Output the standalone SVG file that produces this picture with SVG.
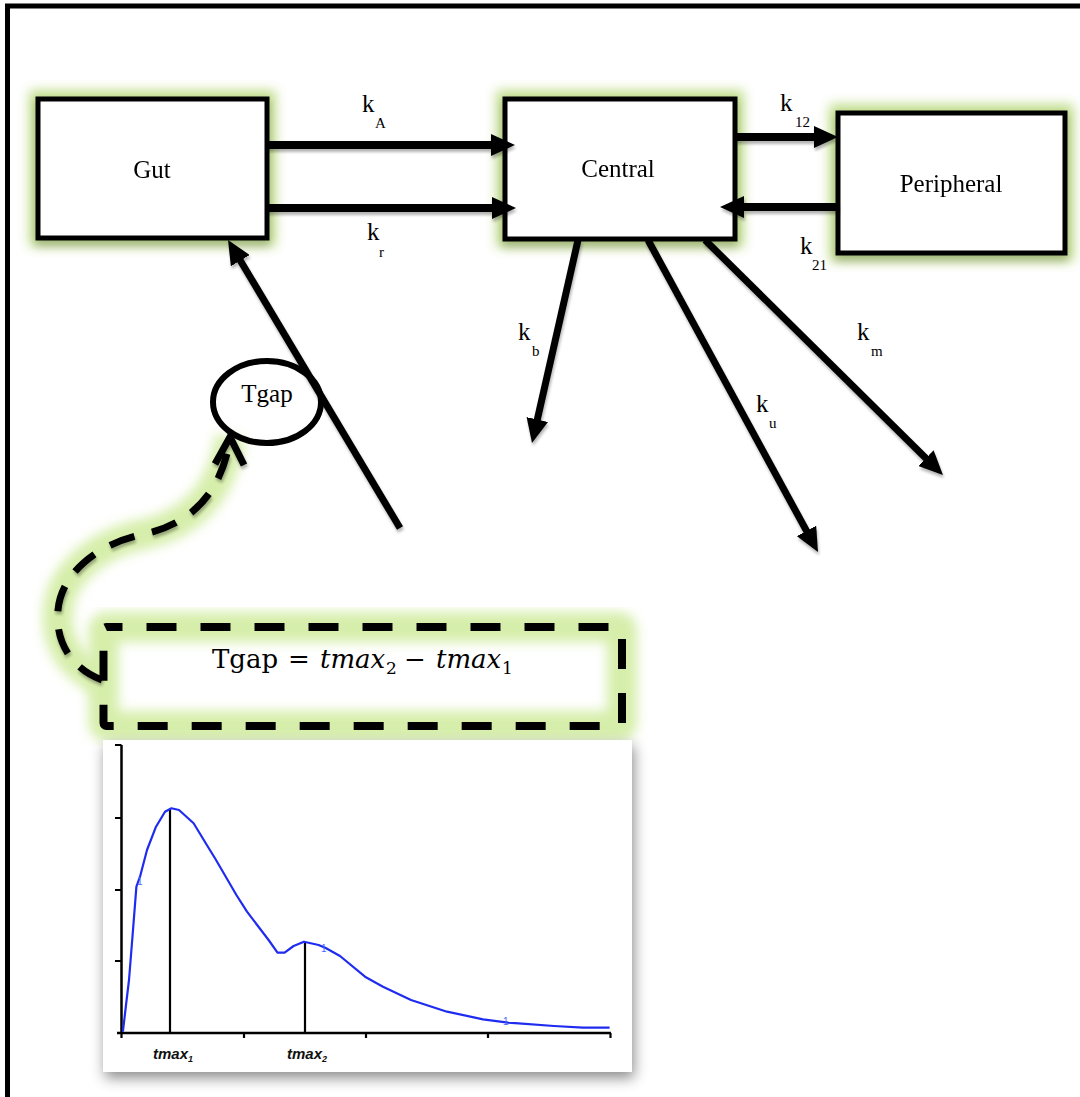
<svg xmlns="http://www.w3.org/2000/svg" width="1080" height="1097" viewBox="0 0 1080 1097">
  <style>
    .lbl { font-family: "Liberation Serif", "Times New Roman", serif; fill: #000; }
    .name { font-size: 25px; text-anchor: middle; }
    .k { font-size: 25px; }
    .sub { font-size: 15px; }
    .box { fill: #fff; stroke: #000; stroke-width: 5; stroke-linejoin: miter; }
    .flow { fill: none; stroke: #000; stroke-width: 8; marker-end: url(#head); }
    .diag { fill: none; stroke: #000; stroke-width: 7; marker-end: url(#head); }
    .dash { fill: none; stroke: #000; stroke-width: 7; }
    .halo { fill: none; stroke: #d6eeaa; filter: url(#soft); }
    .axis { stroke: #000; stroke-width: 2.5; fill: none; }
    .tick { stroke: #000; stroke-width: 2.2; }
    .ax-lbl { font-family: "Liberation Sans", Arial, sans-serif; font-weight: bold; font-style: italic; font-size: 15px; fill: #111; }
    .ax-sub { font-size: 9px; }
    .pt { font-family: "Liberation Sans", Arial, sans-serif; font-size: 10px; fill: #4a68ff; }
    .eq { font-family: "DejaVu Serif", "Liberation Serif", serif; font-size: 26px; fill: #000; }
    .eq-i { font-style: italic; }
    .eq-s { font-size: 17px; }
  </style>
  <defs>
    <marker id="head" viewBox="0 0 24 22" refX="10" refY="11" markerWidth="24" markerHeight="22" markerUnits="userSpaceOnUse" orient="auto">
      <path d="M0,0 L24,11 L0,22 z" fill="#000"/>
    </marker>
    <!-- green halo plus a soft shade under each compartment box -->
    <filter id="nodeGlow" x="-20%" y="-30%" width="140%" height="165%" color-interpolation-filters="sRGB">
      <feMorphology in="SourceAlpha" operator="dilate" radius="6" result="grow"/>
      <feGaussianBlur in="grow" stdDeviation="6" result="softA"/>
      <feFlood flood-color="#bddb85"/>
      <feComposite in2="softA" operator="in" result="halo"/>
      <feGaussianBlur in="SourceAlpha" stdDeviation="4" result="sb"/>
      <feOffset in="sb" dx="0" dy="6" result="sh"/>
      <feComponentTransfer in="sh" result="shade">
        <feFuncA type="linear" slope="0.18"/>
      </feComponentTransfer>
      <feMerge>
        <feMergeNode in="halo"/>
        <feMergeNode in="shade"/>
        <feMergeNode in="SourceGraphic"/>
      </feMerge>
    </filter>
    <filter id="soft" x="-20%" y="-20%" width="140%" height="140%">
      <feGaussianBlur stdDeviation="6"/>
    </filter>
    <filter id="arrowShade" x="-10%" y="-10%" width="130%" height="130%" color-interpolation-filters="sRGB">
      <feGaussianBlur in="SourceAlpha" stdDeviation="1.5" result="b"/>
      <feOffset in="b" dx="1" dy="3" result="o"/>
      <feComponentTransfer in="o" result="s">
        <feFuncA type="linear" slope="0.3"/>
      </feComponentTransfer>
      <feMerge>
        <feMergeNode in="s"/>
        <feMergeNode in="SourceGraphic"/>
      </feMerge>
    </filter>
    <filter id="panelShade" x="-10%" y="-10%" width="125%" height="130%">
      <feDropShadow dx="2" dy="6" stdDeviation="7" flood-color="#000" flood-opacity="0.45"/>
    </filter>
  </defs>

  <rect width="1080" height="1097" fill="#fff"/>

  <!-- outer frame -->
  <path d="M7.5,1100 V6 H1090" fill="none" stroke="#000" stroke-width="5"/>

  <!-- halos behind the dashed link and formula box -->
  <g id="halos">
    <path class="halo" stroke-width="30" d="M102,680 C70,668 55,640 58,610 C61,575 95,545 140,535 C180,527 215,505 228,450 L230,437"/>
    <rect class="halo" stroke-width="30" x="103.5" y="627" width="518.5" height="99" rx="3"/>
  </g>

  <!-- compartments -->
  <g id="gut" filter="url(#nodeGlow)">
    <rect class="box" x="38" y="99" width="229" height="139"/>
    <text class="lbl name" x="152" y="178">Gut</text>
  </g>
  <g id="central" filter="url(#nodeGlow)">
    <rect class="box" x="505" y="99" width="230" height="140"/>
    <text class="lbl name" x="618" y="177">Central</text>
  </g>
  <g id="peripheral" filter="url(#nodeGlow)">
    <rect class="box" x="838" y="113" width="227" height="140"/>
    <text class="lbl name" x="951" y="192">Peripheral</text>
  </g>

  <g id="tgap">
    <ellipse cx="267" cy="402" rx="54" ry="41" fill="none" stroke="#000" stroke-width="6"/>
    <text class="lbl name" x="267" y="402">Tgap</text>
  </g>

  <!-- rate arrows -->
  <g id="connectors" filter="url(#arrowShade)">
    <line class="flow" x1="267" y1="145" x2="501" y2="145"/>
    <line class="flow" x1="267" y1="208" x2="502" y2="208"/>
    <line class="flow" x1="735" y1="137" x2="824" y2="137"/>
    <line class="flow" x1="838" y1="207" x2="734" y2="207"/>
    <line class="diag" x1="578" y1="240" x2="535.1" y2="429.3"/>
    <line class="diag" x1="648" y1="240" x2="811.3" y2="539.7"/>
    <line class="diag" x1="705" y1="240" x2="933" y2="465.2"/>
    <line class="diag" x1="400" y1="528" x2="235.2" y2="252"/>
    <!-- dashed link from the formula to Tgap -->
    <path class="dash" stroke-dasharray="26 18" d="M102,680 C70,668 55,640 58,610 C61,575 95,545 140,535 C180,527 215,505 228,450"/>
    <polyline class="dash" points="215,464 230,437 244,465" stroke-linejoin="miter"/>
  </g>

  <!-- rate constants -->
  <g id="rate-labels" class="lbl">
    <text class="k" x="362" y="112">k</text><text class="sub" x="375" y="128">A</text>
    <text class="k" x="367" y="240">k</text><text class="sub" x="379" y="257">r</text>
    <text class="k" x="780" y="111">k</text><text class="sub" x="795" y="127">12</text>
    <text class="k" x="800" y="254">k</text><text class="sub" x="812" y="270">21</text>
    <text class="k" x="518" y="340">k</text><text class="sub" x="532" y="356">b</text>
    <text class="k" x="756" y="412">k</text><text class="sub" x="769" y="428">u</text>
    <text class="k" x="857" y="340">k</text><text class="sub" x="871" y="356">m</text>
  </g>

  <!-- formula box -->
  <g id="tgap-formula">
    <rect x="103.5" y="627" width="518.5" height="99" rx="3" fill="none" stroke="#000" stroke-width="8" stroke-dasharray="30 24" stroke-dashoffset="14"/>
    <text class="eq" x="212" y="668">Tgap</text>
    <text class="eq" x="288" y="668">=</text>
    <text class="eq eq-i" x="320" y="668">tmax</text>
    <text class="eq eq-s" x="386" y="674">2</text>
    <text class="eq" x="404" y="668">−</text>
    <text class="eq eq-i" x="436" y="668">tmax</text>
    <text class="eq eq-s" x="502" y="674">1</text>
  </g>

  <!-- concentration-time plot -->
  <g id="chart">
    <rect x="103" y="740" width="529" height="332" fill="#fff" filter="url(#panelShade)"/>
    <path class="axis" d="M121.5,745 V1033 M117,1033 H611"/>
    <path class="tick" d="M115,745 H121.5 M115,818 H121.5 M115,890 H121.5 M115,961 H121.5 M121.5,1033 V1038 M244,1033 V1038 M366,1033 V1038 M488,1033 V1038 M610.5,1033 V1038"/>
    <path class="tick" d="M170,809 V1033 M305,942 V1033"/>
    <path fill="none" stroke="#1f2cf0" stroke-width="2.2" stroke-linejoin="round" d="M122.9,1031.7 L126,1005 L129,980 L133,930 L136.4,886.7 L140,876.7 L147,850 L156,826.7 L165,811.7 L171.4,808.3 L179,810 L193.6,823.3 L207.9,846.7 L215,858.3 L236.4,895 L247,911.7 L268.6,940 L277.5,952.7 L284.6,952.7 L293.6,946 L304,941.7 L318.6,945 L325.7,948 L340,956 L365,976.7 L383,986.7 L411,1000 L447,1011.7 L483,1019.3 L508,1022.7 L518.6,1023.3 L554,1026 L583,1027.7 L609.6,1027.7"/>
    <text class="pt" x="137" y="885">1</text>
    <text class="pt" x="321" y="952">1</text>
    <text class="pt" x="503" y="1025">1</text>
    <text class="ax-lbl" x="153" y="1059">tmax<tspan class="ax-sub" dy="3">1</tspan></text>
    <text class="ax-lbl" x="287" y="1059">tmax<tspan class="ax-sub" dy="3">2</tspan></text>
  </g>
</svg>
